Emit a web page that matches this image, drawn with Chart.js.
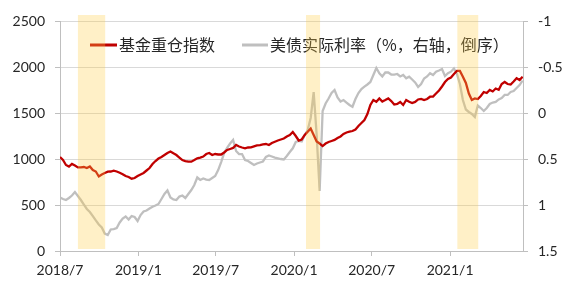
<!DOCTYPE html>
<html lang="zh-CN">
<head>
<meta charset="utf-8" />
<script src="https://cdn.jsdelivr.net/npm/chart.js@4.4.1/dist/chart.umd.min.js"></script>
<title>基金重仓指数与美债实际利率</title>
<style>html,body{margin:0;padding:0;background:#fff}</style>
</head>
<body>
<canvas id="chart" width="580" height="288"></canvas>
<script>
// 周度数据，自 2018/7/1 起（x 为距起点的天数）
var xTickDays = [0, 184, 365, 549, 731, 915];
var xTickLabels = ["2018/7", "2019/1", "2019/7", "2020/1", "2020/7", "2021/1"];
var shadeRanges = [[42, 106], [577, 610], [932, 981]];

var fundIndex = [
  1022, 989, 935, 918, 946, 929, 908, 908, 913, 902,
  918, 880, 864, 810, 832, 848, 862, 864, 873, 864,
  851, 835, 815, 804, 786, 793, 815, 832, 848, 875,
  902, 946, 978, 1005, 1022, 1043, 1065, 1082, 1062, 1043,
  1016, 989, 978, 971, 971, 989, 1008, 1016, 1027, 1054,
  1065, 1043, 1054, 1049, 1049, 1071, 1098, 1109, 1120, 1152,
  1136, 1125, 1116, 1125, 1127, 1138, 1147, 1152, 1158, 1163,
  1152, 1174, 1188, 1201, 1212, 1223, 1245, 1261, 1293, 1250,
  1201, 1212, 1261, 1297, 1332, 1261, 1190, 1168, 1141, 1168,
  1185, 1196, 1207, 1228, 1245, 1272, 1288, 1297, 1304, 1321,
  1359, 1391, 1424, 1489, 1587, 1641, 1623, 1658, 1625, 1641,
  1658, 1630, 1592, 1598, 1620, 1587, 1641, 1623, 1609, 1620,
  1647, 1654, 1641, 1652, 1677, 1679, 1712, 1745, 1788, 1837,
  1870, 1886, 1924, 1957, 1957, 1895, 1826, 1712, 1641, 1658,
  1652, 1685, 1728, 1717, 1750, 1734, 1766, 1753, 1815, 1837,
  1815, 1810, 1842, 1877, 1859, 1895
];

var realYield = [
  0.918, 0.935, 0.946, 0.924, 0.897, 0.859, 0.902, 0.946, 0.995, 1.043,
  1.076, 1.12, 1.168, 1.212, 1.245, 1.31, 1.326, 1.266, 1.261, 1.25,
  1.19, 1.147, 1.125, 1.158, 1.12, 1.13, 1.174, 1.109, 1.071, 1.06,
  1.038, 1.018, 1.005, 0.989, 0.935, 0.88, 0.842, 0.918, 0.94, 0.946,
  0.908, 0.897, 0.924, 0.88, 0.837, 0.783, 0.701, 0.728, 0.712, 0.723,
  0.728, 0.707, 0.685, 0.62, 0.533, 0.435, 0.38, 0.332, 0.293, 0.413,
  0.446, 0.446, 0.511, 0.522, 0.543, 0.565, 0.549, 0.538, 0.527, 0.478,
  0.462, 0.473, 0.484, 0.492, 0.5, 0.505, 0.467, 0.424, 0.384, 0.315,
  0.304, 0.31, 0.239, 0.185, 0.054, -0.228, 0.239, 0.848, -0.022, -0.103,
  -0.158, -0.217, -0.25, -0.168, -0.125, -0.141, -0.114, -0.087, -0.068, -0.152,
  -0.217, -0.261, -0.286, -0.31, -0.337, -0.413, -0.489, -0.432, -0.397, -0.44,
  -0.44, -0.418, -0.418, -0.424, -0.397, -0.413, -0.377, -0.395, -0.364, -0.332,
  -0.283, -0.315, -0.375, -0.397, -0.432, -0.413, -0.449, -0.462, -0.478, -0.402,
  -0.432, -0.449, -0.484, -0.424, -0.315, -0.141, -0.038, -0.011, 0.011, 0.043,
  -0.082, -0.054, -0.022, -0.054, -0.098, -0.114, -0.12, -0.147, -0.163, -0.196,
  -0.196, -0.228, -0.239, -0.272, -0.304, -0.353
];

var seriesNames = ["基金重仓指数", "美债实际利率（%，右轴，倒序）"];

var toPoints = function (vals) {
  return vals.map(function (v, i) { return { x: i * 7, y: v }; });
};

var tickFont = { family: "Lato, 'Noto Sans'", size: 14 };
var axisGrey = "#BFBFBF";
var plainNum = function (v) { return String(Math.round(v * 100) / 100); };

// 图例画在绘图区内，阴影区间盖在最上层
var overlay = {
  id: "overlay",
  afterDatasetsDraw: function (chart) {
    var ctx = chart.ctx;
    ctx.save();
    ctx.font = "16px 'Noto Sans CJK SC'";
    ctx.textBaseline = "middle";
    ctx.fillStyle = "#C00000";
    ctx.fillRect(90, 43.5, 27, 3);
    ctx.fillStyle = "#262626";
    ctx.fillText(seriesNames[0], 119, 45);
    ctx.fillStyle = "#BFBFBF";
    ctx.fillRect(242, 43.5, 26, 3);
    ctx.fillStyle = "#262626";
    ctx.fillText(seriesNames[1], 270, 45);
    ctx.restore();
  },
  afterDraw: function (chart) {
    var ctx = chart.ctx, area = chart.chartArea, x = chart.scales.x;
    ctx.save();
    ctx.fillStyle = "rgba(255,204,68,0.3)";
    shadeRanges.forEach(function (r) {
      var x0 = x.getPixelForValue(r[0]), x1 = x.getPixelForValue(r[1]);
      ctx.fillRect(x0, area.top - 6, x1 - x0, area.bottom - area.top + 4);
    });
    ctx.restore();
  }
};

new Chart(document.getElementById("chart").getContext("2d"), {
  type: "line",
  data: {
    datasets: [
      {
        label: seriesNames[0],
        data: toPoints(fundIndex),
        borderColor: "#C00000",
        borderWidth: 2.3,
        pointRadius: 0,
        order: 0,
        yAxisID: "y"
      },
      {
        label: seriesNames[1],
        data: toPoints(realYield),
        borderColor: "#BFBFBF",
        borderWidth: 2.3,
        pointRadius: 0,
        order: 1,
        yAxisID: "y1"
      }
    ]
  },
  options: {
    responsive: false,
    animation: false,
    devicePixelRatio: 1,
    layout: { padding: { top: 21, left: 0, right: 0, bottom: 0 } },
    plugins: { legend: { display: false }, tooltip: { enabled: false } },
    scales: {
      x: {
        type: "linear",
        min: 0,
        max: 1086,
        afterBuildTicks: function (s) {
          s.ticks = xTickDays.map(function (v) { return { value: v }; });
        },
        afterFit: function (s) { s.height = 37; },
        ticks: {
          autoSkip: false,
          maxRotation: 0,
          padding: 6,
          color: "#262626",
          font: tickFont,
          callback: function (v, i) { return xTickLabels[i]; }
        },
        grid: { drawOnChartArea: false, tickLength: 5, color: axisGrey },
        border: { color: axisGrey }
      },
      y: {
        position: "left",
        min: 0,
        max: 2500,
        afterFit: function (s) { s.width = 60; },
        ticks: { stepSize: 500, padding: 10, color: "#262626", font: tickFont, callback: plainNum },
        grid: { color: "#D9D9D9", tickColor: axisGrey, tickLength: 5 },
        border: { color: axisGrey }
      },
      y1: {
        position: "right",
        reverse: true,
        min: -1,
        max: 1.5,
        afterFit: function (s) { s.width = 57; },
        ticks: { stepSize: 0.5, padding: 10, color: "#262626", font: tickFont, callback: plainNum },
        grid: { drawOnChartArea: false, tickLength: 5, color: axisGrey },
        border: { color: axisGrey }
      }
    }
  },
  plugins: [overlay]
});
</script>
</body>
</html>
